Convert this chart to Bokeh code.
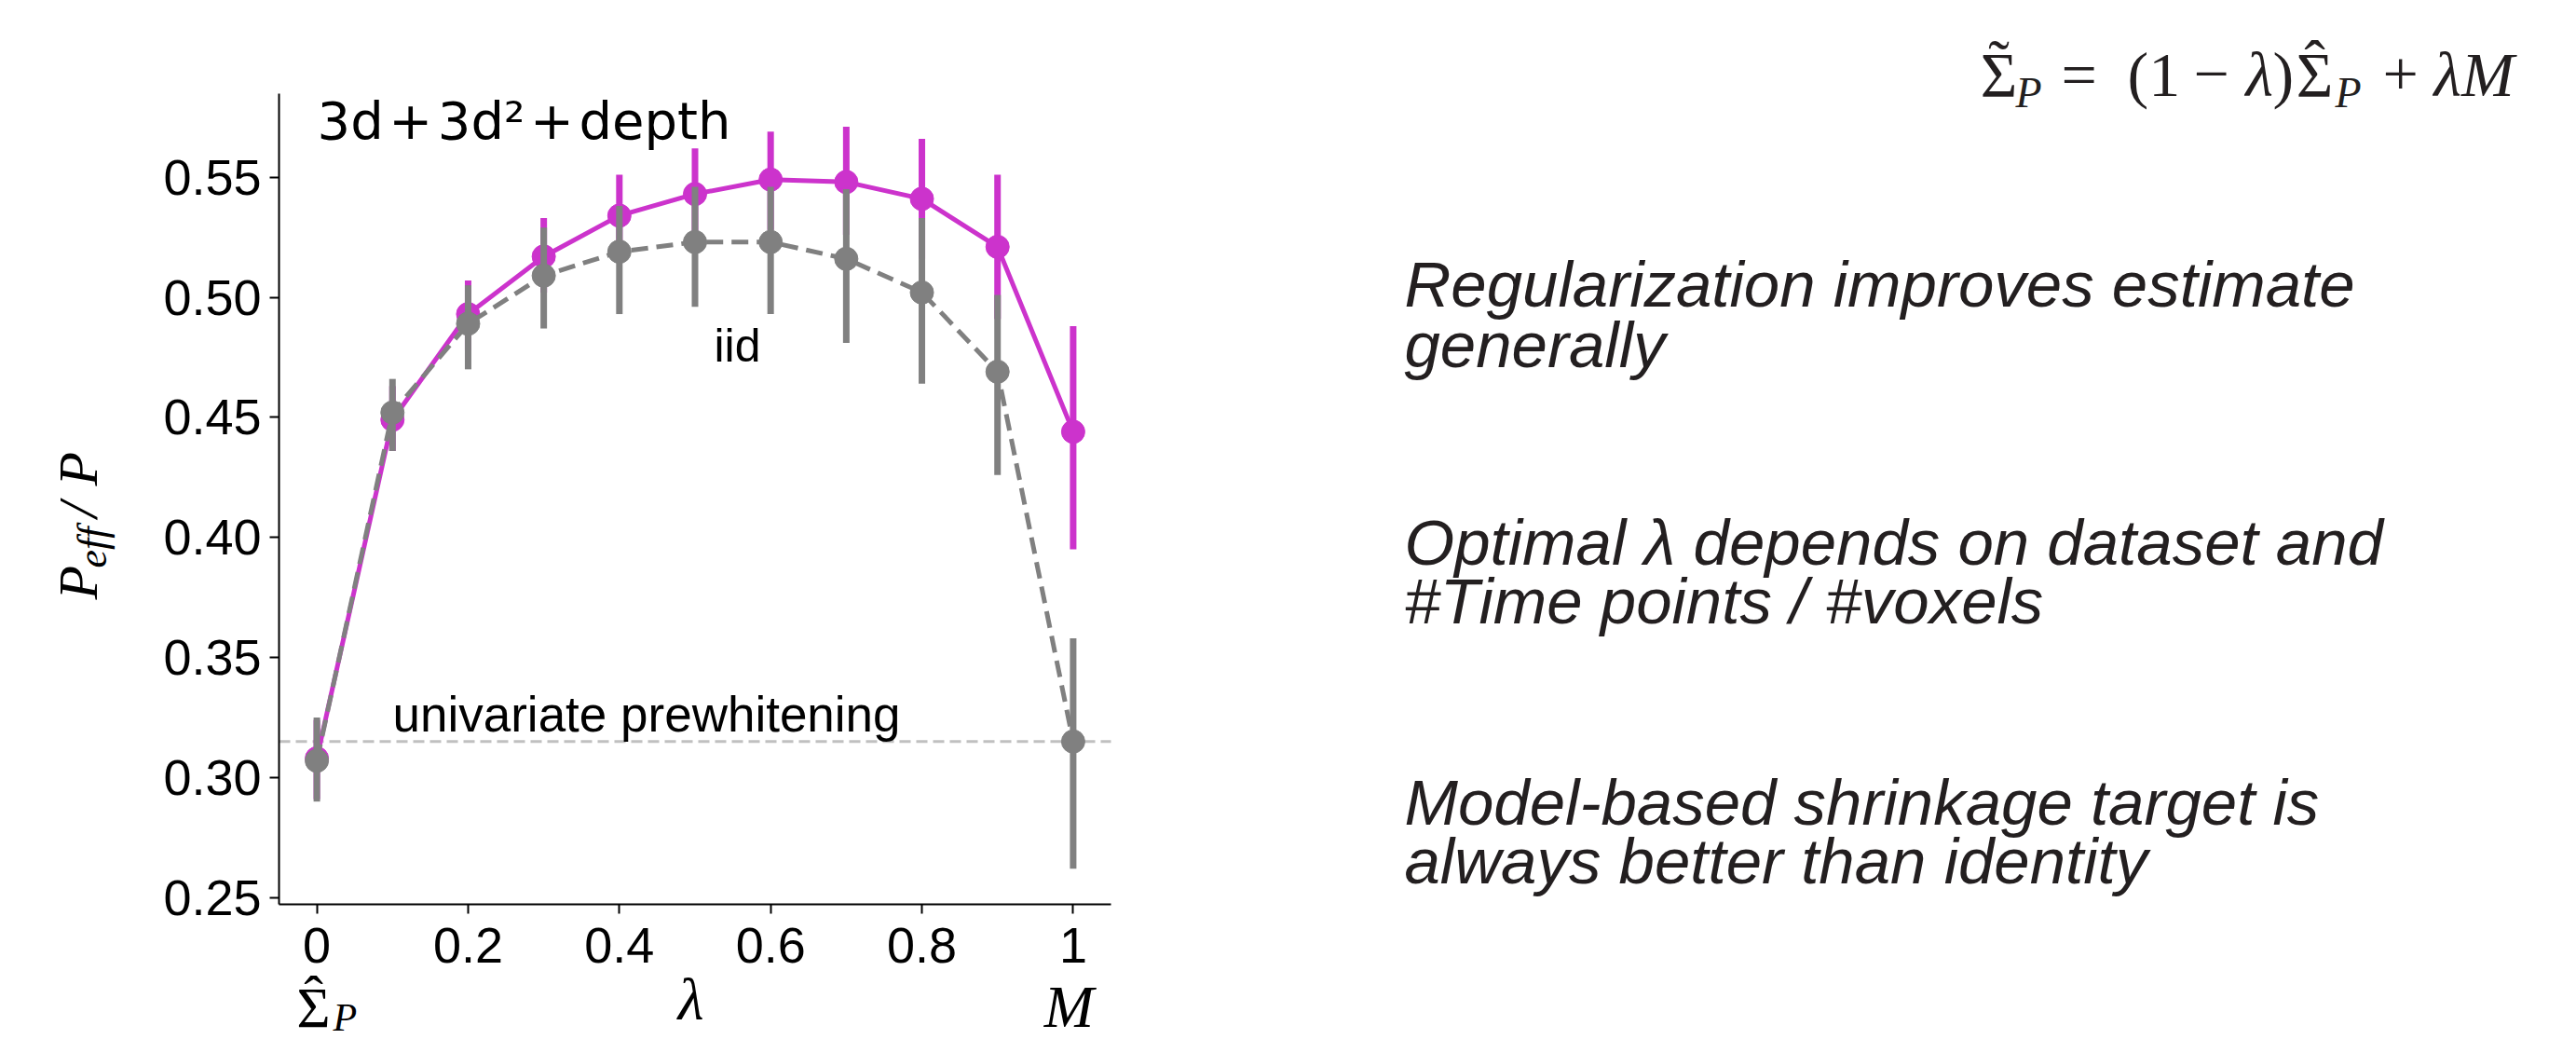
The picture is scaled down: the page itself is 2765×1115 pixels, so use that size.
import numpy as np
from bokeh.plotting import figure
from bokeh.models import Range1d, Label, FixedTicker, NumeralTickFormatter, LinearAxis
from bokeh.embed import file_html
from bokeh.resources import INLINE

# ---------------- data ----------------
lam = [0.0, 0.1, 0.2, 0.3, 0.4, 0.5, 0.6, 0.7, 0.8, 0.9, 1.0]
model_mean = [0.308, 0.449, 0.493, 0.517, 0.534, 0.543, 0.549, 0.548, 0.541, 0.521, 0.444]
model_lo = [0.291, 0.436, 0.478, 0.502, 0.516, 0.524, 0.528, 0.526, 0.516, 0.491, 0.395]
model_hi = [0.324, 0.463, 0.507, 0.533, 0.551, 0.562, 0.569, 0.571, 0.566, 0.551, 0.488]
iid_mean = [0.307, 0.452, 0.489, 0.509, 0.519, 0.523, 0.523, 0.516, 0.502, 0.469, 0.315]
iid_lo = [0.290, 0.436, 0.470, 0.487, 0.493, 0.496, 0.493, 0.481, 0.464, 0.426, 0.262]
iid_hi = [0.325, 0.466, 0.505, 0.529, 0.538, 0.546, 0.546, 0.545, 0.533, 0.501, 0.358]
univariate_level = [0.315]
x_ticks = [0, 0.2, 0.4, 0.6, 0.8, 1]
y_ticks = [0.25, 0.30, 0.35, 0.40, 0.45, 0.50, 0.55]

MAGENTA = "#cc33cc"
GRAY = "#808080"
TXT = "#231f20"

# ---------------- geometry (page pixels -> chart data) ----------------
W, H = 2765, 1115
X0, X1 = -0.05, 1.05          # chart x limits
Y0, Y1 = 0.2472, 0.5848       # chart y limits
FL, FT, FW, FH = 299, 100, 893, 870   # chart box on the page
SX = FW / (X1 - X0)
SY = FH / (Y1 - Y0)


def dx(px):
    return X0 + (px - FL) / SX


def dy(py):
    return Y1 - (py - FT) / SY


p = figure(width=W, height=H, x_range=Range1d(dx(0), dx(W)), y_range=Range1d(dy(H), dy(0)),
           min_border_left=0, min_border_right=0, min_border_top=0, min_border_bottom=0,
           x_axis_type=None, y_axis_type=None,
           output_backend="svg", toolbar_location=None)
p.grid.visible = False
p.outline_line_color = None
p.background_fill_color = "white"
p.border_fill_color = "white"

xa = LinearAxis(fixed_location=Y0, bounds=(X0, X1), ticker=FixedTicker(ticks=x_ticks),
                formatter=NumeralTickFormatter(format="0.[0]"))
ya = LinearAxis(fixed_location=X0, bounds=(Y0, Y1), ticker=FixedTicker(ticks=y_ticks),
                formatter=NumeralTickFormatter(format="0.00"))
for ax in (xa, ya):
    ax.axis_line_width = 2
    ax.axis_line_color = "black"
    ax.major_tick_line_width = 2
    ax.major_tick_line_color = "black"
    ax.major_tick_in = 0
    ax.major_tick_out = 10
    ax.minor_tick_in = 0
    ax.minor_tick_out = 0
    ax.major_label_text_font = "Liberation Sans"
    ax.major_label_text_font_size = "54px"
    ax.major_label_text_color = "black"
xa.major_label_standoff = 15
ya.major_label_standoff = 9
p.add_layout(xa, "below")
p.add_layout(ya, "left")

# univariate prewhitening reference level, across the chart width
p.segment(x0=[X0], y0=univariate_level, x1=[X1], y1=univariate_level,
          line_color="#c0c0c0", line_width=3, line_dash="12 6")

# model-based (magenta)
p.line(lam, model_mean, line_color=MAGENTA, line_width=5)
p.segment(x0=lam, y0=model_lo, x1=lam, y1=model_hi, line_color=MAGENTA, line_width=7)
p.scatter(lam, model_mean, size=25, fill_color=MAGENTA, line_color=MAGENTA)

# iid (gray, dashed)
p.line(lam, iid_mean, line_color=GRAY, line_width=5, line_dash="18 9")
p.segment(x0=lam, y0=iid_lo, x1=lam, y1=iid_hi, line_color=GRAY, line_width=7)
p.scatter(lam, iid_mean, size=25, fill_color=GRAY, line_color=GRAY)

BASE_FIX = 0.31   # baseline correction, in em


def lab(px, py, text, size, font="Liberation Sans", style="normal", align="left",
        angle=0.0, color="black"):
    if angle == 0.0:
        py = py - BASE_FIX * size
    else:
        px = px - BASE_FIX * size
    p.add_layout(Label(x=dx(px), y=dy(py), text=text, text_font=font, text_font_size=f"{size}px",
                       text_font_style=style, text_align=align, text_baseline="alphabetic",
                       angle=angle, text_color=color))


serif = "Liberation Serif"
HS = "\u200a"
lab(340, 146, f"3d{HS}+{HS}3d\u00b2{HS}+{HS}depth", 56, font="DejaVu Sans")
lab(791, 386, "iid", 50, align="center")
lab(421, 782, "univariate prewhitening", 53)

# y-axis label  P_eff / P  (reads bottom to top)
up = np.pi / 2
lab(102, 643, "P", 60, font=serif, style="italic", angle=up)
lab(113, 609, "eff", 44, font=serif, style="italic", angle=up)
lab(102, 555, "/", 60, font=serif, style="italic", angle=up)
lab(102, 521, "P", 60, font=serif, style="italic", angle=up)

# x-axis label and end annotations
lab(741, 1092, "\u03bb", 64, font=serif, style="italic", align="center")
lab(336, 1100, "\u03a3", 62, font=serif, align="center")
lab(336, 1088, "\u02c6", 62, font=serif, align="center")
lab(357, 1105, "P", 42, font=serif, style="italic")
lab(1147, 1100, "M", 64, font=serif, style="italic", align="center")

# ---------------- equation ----------------
EQ, SUB, EB = 68, 46, 101
lab(2145, EB, "\u03a3", EQ, font=serif, align="center", color=TXT)
lab(2145, EB - 13, "\u02dc", EQ, font=serif, align="center", color=TXT)
lab(2163, EB + 12, "P", SUB, font=serif, style="italic", color=TXT)
lab(2212, EB, "=", EQ, font=serif, color=TXT)
lab(2283, EB, "(1", EQ, font=serif, color=TXT)
lab(2354, EB, "\u2212", EQ, font=serif, color=TXT)
lab(2410, EB, "\u03bb", EQ, font=serif, style="italic", color=TXT)
lab(2439, EB, ")", EQ, font=serif, color=TXT)
lab(2484, EB, "\u03a3", EQ, font=serif, align="center", color=TXT)
lab(2484, EB - 13, "\u02c6", EQ, font=serif, align="center", color=TXT)
lab(2506, EB + 12, "P", SUB, font=serif, style="italic", color=TXT)
lab(2557, EB, "+", EQ, font=serif, color=TXT)
lab(2612, EB, "\u03bbM", EQ, font=serif, style="italic", color=TXT)

# ---------------- bullet texts ----------------
lines = [
    ("Regularization improves estimate", 326),
    ("generally", 391),
    ("Optimal \u03bb depends on dataset and", 603),
    ("#Time points / #voxels", 666),
    ("Model-based shrinkage target is", 882),
    ("always better than identity", 945),
]
for t, yb in lines:
    lab(1507, yb, t, 69, style="italic", color=TXT)

open("out.html", "w").write(file_html(p, INLINE))
